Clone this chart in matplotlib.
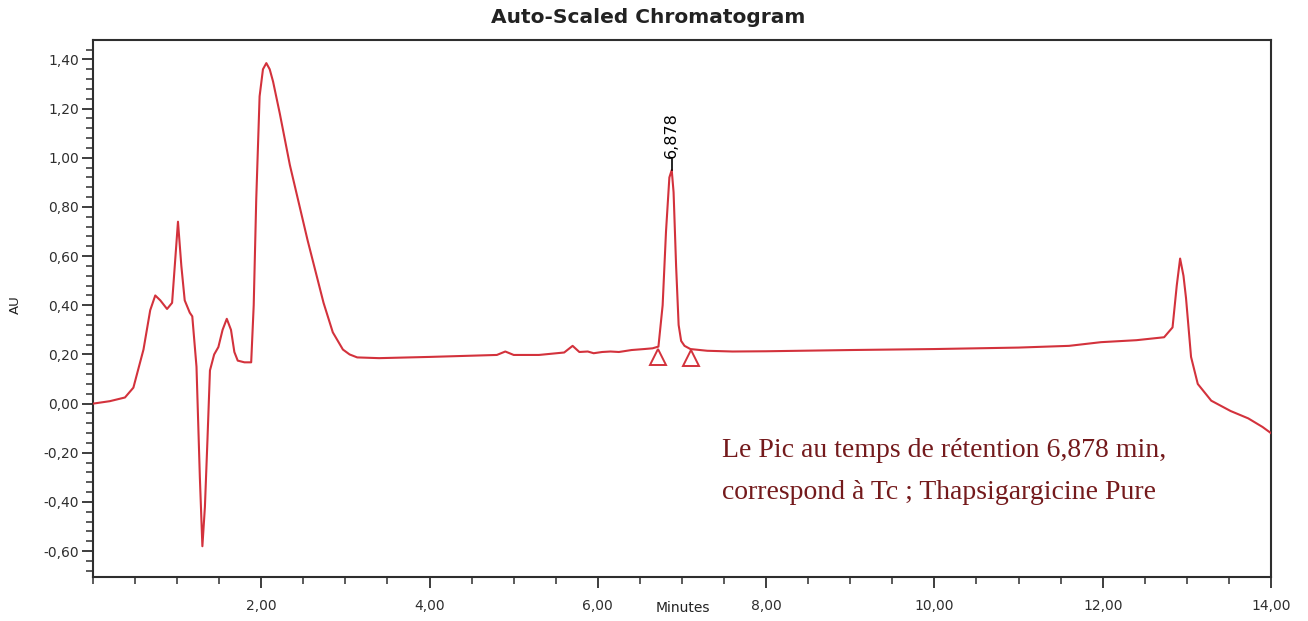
import matplotlib.pyplot as plt
from matplotlib.ticker import MultipleLocator, FuncFormatter
import numpy as np

# trace read point by point (minutes, AU)
temps = [0.00, 0.20, 0.38, 0.48, 0.60, 0.68, 0.74, 0.80, 0.88, 0.94,
         1.01, 1.05, 1.09, 1.15, 1.18, 1.23, 1.27, 1.30, 1.33, 1.36,
         1.39, 1.44, 1.49, 1.54, 1.59, 1.64, 1.68, 1.72, 1.80, 1.88,
         1.91, 1.94, 1.98, 2.02, 2.06, 2.10, 2.14, 2.22, 2.34, 2.55, 2.74,
         2.85, 2.97, 3.05, 3.14, 3.40, 4.00, 4.50, 4.80, 4.90, 5.00,
         5.30, 5.60, 5.70, 5.78, 5.88, 5.95, 6.05, 6.15, 6.25, 6.40,
         6.55, 6.65, 6.72, 6.77, 6.81, 6.85, 6.878, 6.90, 6.93, 6.96,
         6.99, 7.03, 7.10, 7.30, 7.60, 8.00, 9.00, 10.00, 11.00, 11.60,
         11.98, 12.40, 12.73, 12.83, 12.88, 12.92, 12.96, 12.99, 13.05, 13.13,
         13.29, 13.52, 13.73, 13.90, 14.00]
au = [0.000, 0.010, 0.025, 0.065, 0.220, 0.380, 0.440, 0.420, 0.385, 0.410,
      0.740, 0.560, 0.420, 0.370, 0.355, 0.150, -0.300, -0.580, -0.420, -0.150,
      0.135, 0.200, 0.230, 0.300, 0.345, 0.300, 0.210, 0.175, 0.168, 0.168,
      0.400, 0.830, 1.250, 1.360, 1.385, 1.360, 1.310, 1.180, 0.970, 0.665, 0.410,
      0.290, 0.220, 0.200, 0.188, 0.185, 0.190, 0.195, 0.198, 0.212, 0.198,
      0.198, 0.208, 0.235, 0.210, 0.212, 0.205, 0.210, 0.212, 0.210, 0.218,
      0.222, 0.225, 0.232, 0.400, 0.700, 0.920, 0.950, 0.860, 0.560, 0.320,
      0.255, 0.235, 0.222, 0.215, 0.212, 0.213, 0.218, 0.222, 0.228, 0.235,
      0.250, 0.258, 0.270, 0.310, 0.480, 0.590, 0.520, 0.430, 0.190, 0.080,
      0.012, -0.030, -0.060, -0.095, -0.120]

# integrated peak
pic_tr = 6.878
pic_haut = 0.950
bornes_t = [6.71, 7.11]
bornes_au = [0.190, 0.186]

x_ticks = [2, 4, 6, 8, 10, 12, 14]
y_ticks = [-0.6, -0.4, -0.2, 0.0, 0.2, 0.4, 0.6, 0.8, 1.0, 1.2, 1.4]

rouge = '#d3323c'
gris = '#2e2e2e'

fig = plt.figure(figsize=(13.08, 6.21), dpi=100)
ax = fig.add_axes([0.0711, 0.0709, 0.9006, 0.8647])

ax.plot(temps, au, color=rouge, lw=1.5, zorder=3)
ax.plot(bornes_t, bornes_au, ls='none', marker='^', ms=12, mfc='none',
        mec=rouge, mew=1.4, zorder=4)

# retention time label
ax.plot([pic_tr, pic_tr], [pic_haut, pic_haut + 0.045], color='black', lw=1.2, zorder=5)
ax.text(pic_tr, pic_haut + 0.05, '6,878', rotation=90, ha='center', va='bottom',
        fontsize=11.5, color='black', family='DejaVu Sans')

ax.set_xlim(0, 14)
ax.set_ylim(-0.705, 1.479)
ax.set_xticks(x_ticks)
ax.set_yticks(y_ticks)
ax.xaxis.set_minor_locator(MultipleLocator(0.5))
ax.yaxis.set_minor_locator(MultipleLocator(0.04))
virgule = FuncFormatter(lambda v, p: f'{v:.2f}'.replace('.', ','))
ax.xaxis.set_major_formatter(virgule)
ax.yaxis.set_major_formatter(virgule)
ax.tick_params(which='major', direction='out', length=8, width=1.3, color=gris,
               labelsize=10, labelcolor=gris, pad=2)
ax.tick_params(which='minor', direction='out', length=5, width=1.1, color=gris)
ax.tick_params(axis='x', which='major', pad=8)
for s in ax.spines.values():
    s.set_color(gris)
    s.set_linewidth(1.5)

fig.text(0.4954, 0.9726, 'Auto-Scaled Chromatogram', ha='center', va='center',
         fontsize=14.5, fontweight='bold', color='#222222', family='DejaVu Sans')
fig.text(0.0115, 0.509, 'AU', rotation=90, ha='center', va='center',
         fontsize=9.5, color='#222222')
fig.text(0.522, 0.021, 'Minutes', ha='center', va='center',
         fontsize=10, color='#222222')

note_couleur = '#741a1c'
ax.text(7.48, -0.218, 'Le Pic au temps de rétention 6,878 min,', ha='left',
        va='baseline', fontsize=20, color=note_couleur, family='Liberation Serif')
ax.text(7.48, -0.389, 'correspond à Tc ; Thapsigargicine Pure', ha='left',
        va='baseline', fontsize=20, color=note_couleur, family='Liberation Serif')

plt.savefig('out.png', dpi=100)
